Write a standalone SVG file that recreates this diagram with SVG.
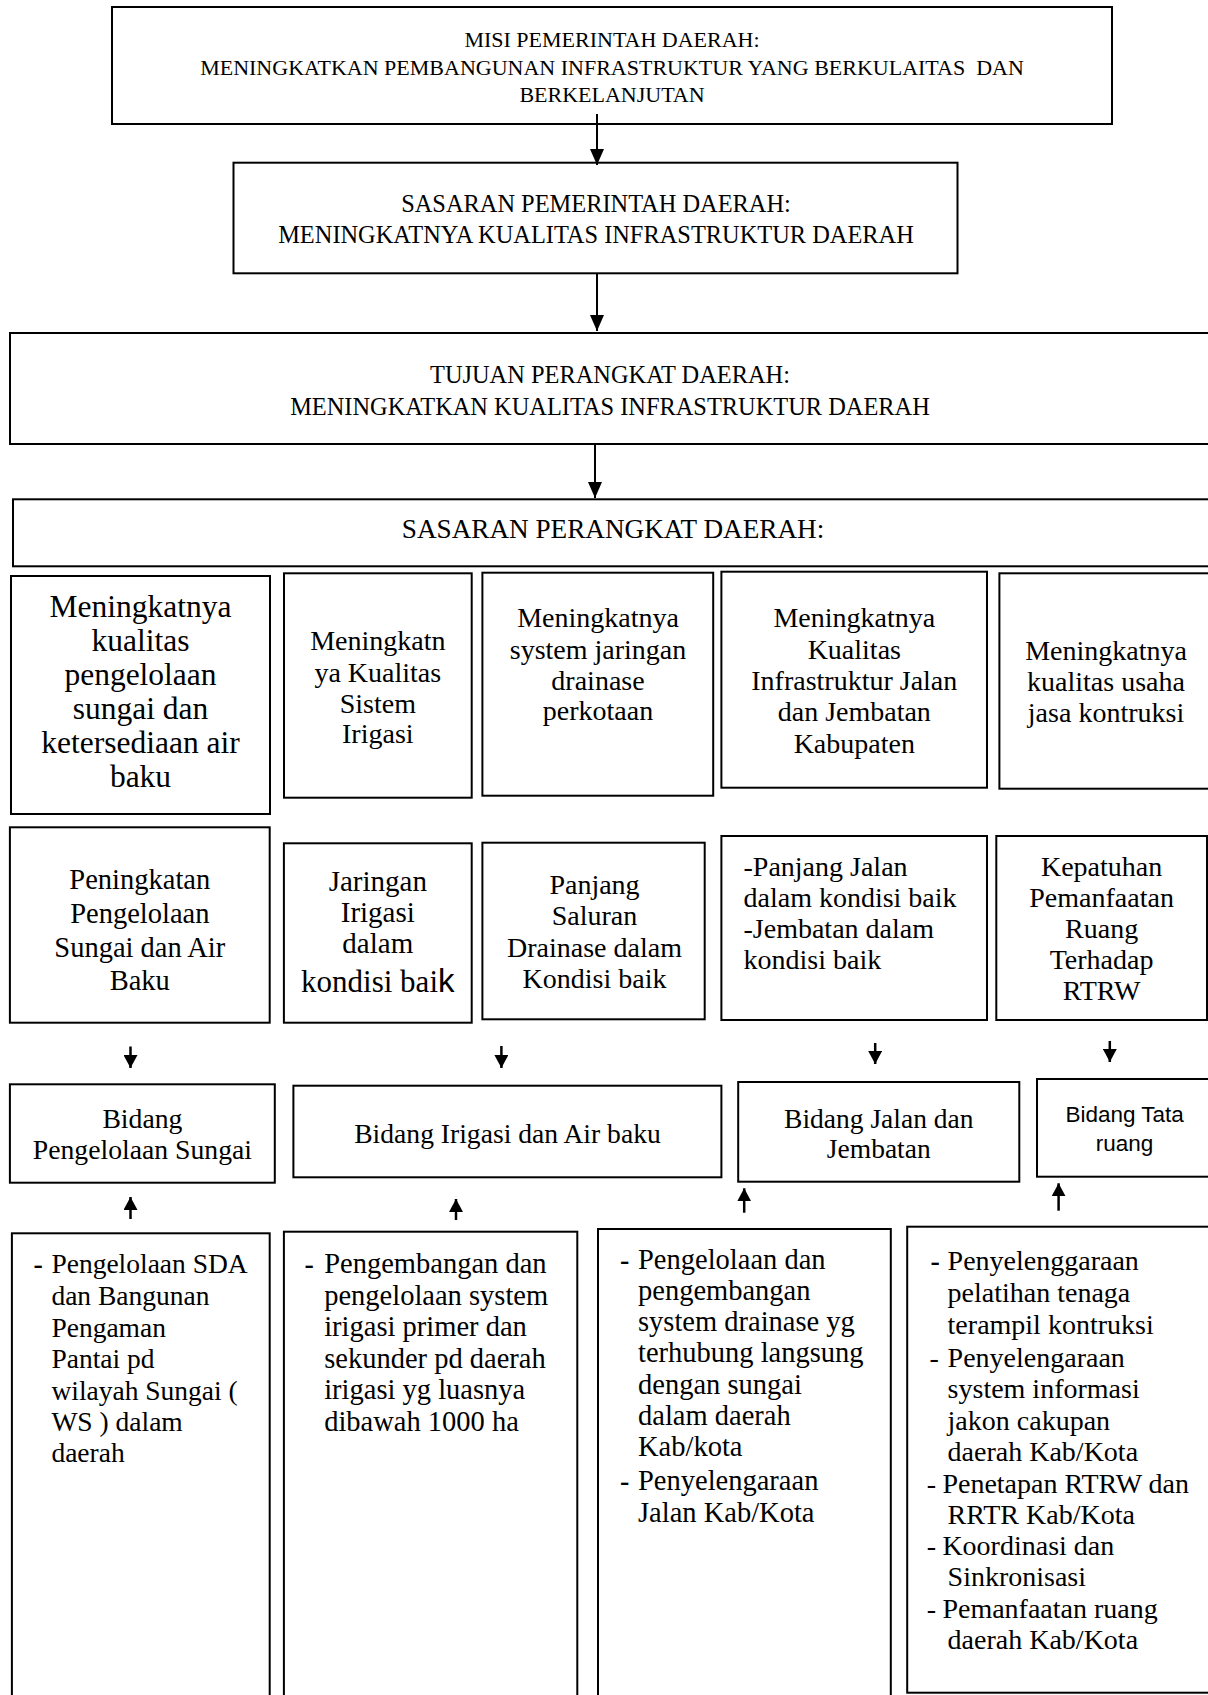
<svg xmlns="http://www.w3.org/2000/svg" width="1208" height="1695" viewBox="0 0 1208 1695">
<style>
.box{fill:#fff;stroke:#000;stroke-width:2}
.t{font-family:"Liberation Serif","Times New Roman",serif;fill:#000}
.c{text-anchor:middle}
.s{font-family:"Liberation Sans",Arial,sans-serif}
.cn line{stroke:#000;stroke-width:2}
.cn line.sh{stroke-width:2.5}
.dash{font-weight:bold}
</style>
<defs>
<marker id="big" viewBox="0 0 10 10" refX="10" refY="5" markerWidth="16" markerHeight="14" markerUnits="userSpaceOnUse" orient="auto" preserveAspectRatio="none"><path d="M0,0 L10,5 L0,10 z" fill="#000"/></marker>
<marker id="sm" viewBox="0 0 10 10" refX="10" refY="5" markerWidth="13" markerHeight="14" markerUnits="userSpaceOnUse" orient="auto" preserveAspectRatio="none"><path d="M0,0 L10,5 L0,10 z" fill="#000"/></marker>
</defs>
<rect width="1208" height="1695" fill="#fff"/>

<g id="misi">
<rect class="box" x="112" y="7" width="1000" height="117"/>
<text class="t c" font-size="22" xml:space="preserve"><tspan x="612" y="46.5">MISI PEMERINTAH DAERAH:</tspan><tspan x="612" y="75">MENINGKATKAN PEMBANGUNAN INFRASTRUKTUR YANG BERKULAITAS  DAN</tspan><tspan x="612" y="101.5">BERKELANJUTAN</tspan></text>
</g>
<g id="sasaran-pemda">
<rect class="box" x="233.5" y="162.7" width="724" height="110.6"/>
<text class="t c" font-size="24.4"><tspan x="596" y="211.7">SASARAN PEMERINTAH DAERAH:</tspan><tspan x="596" y="242.7">MENINGKATNYA KUALITAS INFRASTRUKTUR DAERAH</tspan></text>
</g>
<g id="tujuan">
<rect class="box" x="10" y="333" width="1215" height="111"/>
<text class="t c" font-size="24.4"><tspan x="610" y="383.3">TUJUAN PERANGKAT DAERAH:</tspan><tspan x="610" y="415">MENINGKATKAN KUALITAS INFRASTRUKTUR DAERAH</tspan></text>
</g>
<g id="sasaran-pd">
<rect class="box" x="13" y="499.3" width="1212" height="67"/>
<text class="t c" font-size="27.2" x="613" y="538.3">SASARAN PERANGKAT DAERAH:</text>
</g>

<g id="a1">
<rect class="box" x="11" y="576" width="259" height="238"/>
<text class="t c" font-size="31.5"><tspan x="140.5" y="616.7">Meningkatnya</tspan><tspan x="140.5" y="650.7">kualitas</tspan><tspan x="140.5" y="685">pengelolaan</tspan><tspan x="140.5" y="719.3">sungai dan</tspan><tspan x="140.5" y="753.3">ketersediaan air</tspan><tspan x="140.5" y="787.3">baku</tspan></text>
</g>
<g id="a2">
<rect class="box" x="284" y="573.3" width="187.7" height="224.4"/>
<text class="t c" font-size="28"><tspan x="377.8" y="650">Meningkatn</tspan><tspan x="377.8" y="681.7">ya Kualitas</tspan><tspan x="377.8" y="712.7">Sistem</tspan><tspan x="377.8" y="743.3">Irigasi</tspan></text>
</g>
<g id="a3">
<rect class="box" x="482.4" y="572.7" width="230.8" height="223"/>
<text class="t c" font-size="28"><tspan x="598" y="627">Meningkatnya</tspan><tspan x="598" y="658.5">system jaringan</tspan><tspan x="598" y="690">drainase</tspan><tspan x="598" y="720">perkotaan</tspan></text>
</g>
<g id="a4">
<rect class="box" x="721.4" y="571.7" width="265.6" height="216"/>
<text class="t c" font-size="28"><tspan x="854.3" y="627">Meningkatnya</tspan><tspan x="854.3" y="658.5">Kualitas</tspan><tspan x="854.3" y="690">Infrastruktur Jalan</tspan><tspan x="854.3" y="721">dan Jembatan</tspan><tspan x="854.3" y="752.5">Kabupaten</tspan></text>
</g>
<g id="a5">
<rect class="box" x="999.4" y="573.3" width="225" height="215.4"/>
<text class="t c" font-size="28"><tspan x="1106" y="659.5">Meningkatnya</tspan><tspan x="1106" y="691">kualitas usaha</tspan><tspan x="1106" y="722.3">jasa kontruksi</tspan></text>
</g>

<g id="b1">
<rect class="box" x="9.9" y="827.3" width="259.8" height="195.4"/>
<text class="t c" font-size="28.5"><tspan x="139.8" y="889">Peningkatan</tspan><tspan x="139.8" y="923">Pengelolaan</tspan><tspan x="139.8" y="956.7">Sungai dan Air</tspan><tspan x="139.8" y="990">Baku</tspan></text>
</g>
<g id="b2">
<rect class="box" x="283.9" y="843.3" width="187.8" height="179.4"/>
<text class="t c" font-size="29"><tspan x="377.8" y="891">Jaringan</tspan><tspan x="377.8" y="922">Irigasi</tspan><tspan x="377.8" y="953">dalam</tspan><tspan x="377.8" y="992" font-size="31">kondisi bai<tspan class="s" font-size="33">k</tspan></tspan></text>
</g>
<g id="b3">
<rect class="box" x="482.4" y="842.7" width="222.3" height="176.6"/>
<text class="t c" font-size="28"><tspan x="594.5" y="894">Panjang</tspan><tspan x="594.5" y="925">Saluran</tspan><tspan x="594.5" y="957">Drainase dalam</tspan><tspan x="594.5" y="988">Kondisi baik</tspan></text>
</g>
<g id="b4">
<rect class="box" x="721.4" y="836" width="265.6" height="184"/>
<text class="t" font-size="28"><tspan x="743.5" y="876">-Panjang Jalan</tspan><tspan x="743.5" y="907">dalam kondisi baik</tspan><tspan x="743.5" y="937.5">-Jembatan dalam</tspan><tspan x="743.5" y="969">kondisi baik</tspan></text>
</g>
<g id="b5">
<rect class="box" x="996.3" y="836" width="210.7" height="184"/>
<text class="t c" font-size="28"><tspan x="1101.6" y="876">Kepatuhan</tspan><tspan x="1101.6" y="907">Pemanfaatan</tspan><tspan x="1101.6" y="937.5">Ruang</tspan><tspan x="1101.6" y="969">Terhadap</tspan><tspan x="1101.6" y="1000">RTRW</tspan></text>
</g>

<g id="c1">
<rect class="box" x="9.9" y="1084.3" width="264.9" height="98.4"/>
<text class="t c" font-size="27.7"><tspan x="142.4" y="1128">Bidang</tspan><tspan x="142.4" y="1159">Pengelolaan Sungai</tspan></text>
</g>
<g id="c2">
<rect class="box" x="293.4" y="1085.7" width="428" height="91.6"/>
<text class="t c" font-size="27.6" x="507.5" y="1143">Bidang Irigasi dan Air baku</text>
</g>
<g id="c3">
<rect class="box" x="738.2" y="1082" width="281.1" height="99.7"/>
<text class="t c" font-size="27.5"><tspan x="878.8" y="1128">Bidang Jalan dan</tspan><tspan x="878.8" y="1158">Jembatan</tspan></text>
</g>
<g id="c4">
<rect class="box" x="1037" y="1079" width="190" height="97.7"/>
<text class="s c" font-size="22.5" fill="#000"><tspan x="1124.6" y="1122">Bidang Tata</tspan><tspan x="1124.6" y="1151">ruang</tspan></text>
</g>

<g id="d1">
<rect class="box" x="11.9" y="1233.3" width="257.8" height="480"/>
<text class="t dash" font-size="28" x="33.6" y="1273">-</text>
<text class="t" font-size="27.5"><tspan x="51.4" y="1273">Pengelolaan SDA</tspan><tspan x="51.4" y="1305">dan Bangunan</tspan><tspan x="51.4" y="1336.5">Pengaman</tspan><tspan x="51.4" y="1368">Pantai pd</tspan><tspan x="51.4" y="1399.5">wilayah Sungai (</tspan><tspan x="51.4" y="1431">WS ) dalam</tspan><tspan x="51.4" y="1462">daerah</tspan></text>
</g>
<g id="d2">
<rect class="box" x="283.9" y="1231.7" width="293.4" height="480"/>
<text class="t dash" font-size="28" x="304.5" y="1273">-</text>
<text class="t" font-size="28.5"><tspan x="324.2" y="1273">Pengembangan dan</tspan><tspan x="324.2" y="1304.5">pengelolaan system</tspan><tspan x="324.2" y="1336">irigasi primer dan</tspan><tspan x="324.2" y="1367.5">sekunder pd daerah</tspan><tspan x="324.2" y="1399">irigasi yg luasnya</tspan><tspan x="324.2" y="1430.5">dibawah 1000 ha</tspan></text>
</g>
<g id="d3">
<rect class="box" x="598" y="1229" width="292.8" height="480"/>
<text class="t dash" font-size="28"><tspan x="620" y="1269">-</tspan><tspan x="620" y="1490">-</tspan></text>
<text class="t" font-size="28.5"><tspan x="638" y="1269">Pengelolaan dan</tspan><tspan x="638" y="1300">pengembangan</tspan><tspan x="638" y="1331">system drainase yg</tspan><tspan x="638" y="1362">terhubung langsung</tspan><tspan x="638" y="1393.5">dengan sungai</tspan><tspan x="638" y="1425">dalam daerah</tspan><tspan x="638" y="1456">Kab/kota</tspan><tspan x="638" y="1490">Penyelengaraan</tspan><tspan x="638" y="1521.5">Jalan Kab/Kota</tspan></text>
</g>
<g id="d4">
<rect class="box" x="907.2" y="1226.7" width="320" height="466"/>
<text class="t dash" font-size="28" x="930.4" y="1270">-</text>
<text class="t" font-size="28"><tspan x="929.6" y="1366.5">-</tspan><tspan x="926.8" y="1492.5">-</tspan><tspan x="926.8" y="1555">-</tspan><tspan x="926.8" y="1617.5">-</tspan></text>
<text class="t" font-size="28"><tspan x="947.6" y="1270">Penyelenggaraan</tspan><tspan x="947.6" y="1302">pelatihan tenaga</tspan><tspan x="947.6" y="1334">terampil kontruksi</tspan><tspan x="947.6" y="1366.5">Penyelengaraan</tspan><tspan x="947.6" y="1398">system informasi</tspan><tspan x="947.6" y="1429.5">jakon cakupan</tspan><tspan x="947.6" y="1461">daerah Kab/Kota</tspan><tspan x="942.4" y="1492.5">Penetapan RTRW dan</tspan><tspan x="947.6" y="1524">RRTR Kab/Kota</tspan><tspan x="942.4" y="1555">Koordinasi dan</tspan><tspan x="947.6" y="1586">Sinkronisasi</tspan><tspan x="942.4" y="1617.5">Pemanfaatan ruang</tspan><tspan x="947.6" y="1649">daerah Kab/Kota</tspan></text>
</g>

<g id="connectors" class="cn">
<line x1="597" y1="114" x2="597" y2="165" marker-end="url(#big)"/>
<line x1="597" y1="273" x2="597" y2="331" marker-end="url(#big)"/>
<line x1="595" y1="444" x2="595" y2="498" marker-end="url(#big)"/>
<line class="sh" x1="130.5" y1="1046.5" x2="130.5" y2="1068" marker-end="url(#sm)"/>
<line class="sh" x1="501.4" y1="1046" x2="501.4" y2="1068" marker-end="url(#sm)"/>
<line class="sh" x1="875.2" y1="1043" x2="875.2" y2="1064" marker-end="url(#sm)"/>
<line class="sh" x1="1109.8" y1="1041" x2="1109.8" y2="1062" marker-end="url(#sm)"/>
<line class="sh" x1="130.5" y1="1219" x2="130.5" y2="1197" marker-end="url(#sm)"/>
<line class="sh" x1="456" y1="1220" x2="456" y2="1199" marker-end="url(#sm)"/>
<line class="sh" x1="744.2" y1="1212.7" x2="744.2" y2="1188.3" marker-end="url(#sm)"/>
<line class="sh" x1="1058.6" y1="1210.7" x2="1058.6" y2="1183.3" marker-end="url(#sm)"/>
</g>
</svg>
